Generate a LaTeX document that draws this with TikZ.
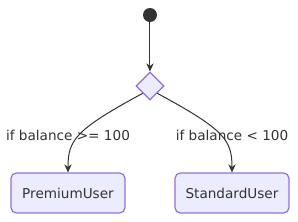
\documentclass[tikz,border=0pt]{standalone}
\usepackage{fontspec}
\setmainfont{DejaVu Sans}
\usetikzlibrary{shapes.geometric,arrows.meta}
\definecolor{boxfill}{HTML}{ECECFF}
\definecolor{boxline}{HTML}{9370DB}
\definecolor{ink}{HTML}{333333}
\tikzset{
  x=0.75pt, y=-0.75pt,
  every node/.style={font=\fontsize{10.2pt}{12pt}\selectfont, text=ink},
  statebox/.style={draw=boxline, fill=boxfill, line width=0.9pt, rounded corners=4pt,
    minimum width=114*0.75pt, minimum height=40*0.75pt, inner sep=0pt},
  choice/.style={diamond, draw=boxline, fill=boxfill, line width=0.9pt,
    minimum width=28*0.75pt, minimum height=28*0.75pt, inner sep=0pt},
  startdot/.style={circle, fill=ink, minimum size=14*0.75pt, inner sep=0pt},
  edge/.style={draw=ink, line width=0.75pt, -{Stealth[length=6pt,width=5.5pt]}},
  elabel/.style={inner sep=0pt}
}
\begin{document}
\begin{tikzpicture}
\useasboundingbox (0,0) rectangle (298,222);
\node[startdot] (s) at (150,15) {};
\node[choice] (d) at (150,86) {};
\node[statebox] (pu) at (68,193) {PremiumUser};
\node[statebox] (su) at (232,193) {StandardUser};
\draw[edge] (s) -- (d);
\draw[edge] (d.south west) .. controls (75,130) and (68,140) .. (pu.north);
\draw[edge] (d.south east) .. controls (225,130) and (232,140) .. (su.north);
\node[elabel] (l1) at (68,135) {if balance >= 100};
\node[elabel] (l2) at (232,135) {if balance < 100};
\end{tikzpicture}
\end{document}
